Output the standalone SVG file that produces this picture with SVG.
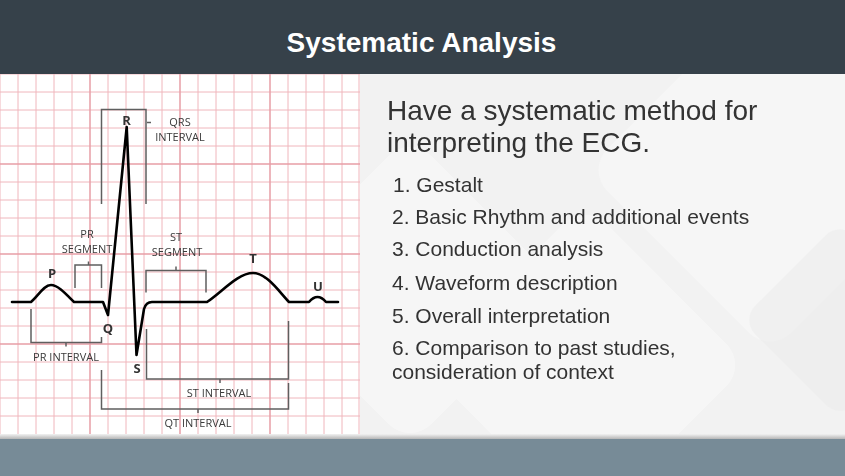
<svg xmlns="http://www.w3.org/2000/svg" width="845" height="476" viewBox="0 0 845 476">
<defs>
<linearGradient id="shadow" x1="0" y1="0" x2="0" y2="1">
<stop offset="0" stop-color="#f2f2f2"/>
<stop offset="1" stop-color="#a9a9a9"/>
</linearGradient>
<clipPath id="ecgclip"><rect x="0" y="74" width="360" height="360"/></clipPath>
</defs>
<style>
.minor{stroke:#f0b6bc;stroke-width:1;fill:none}
.major{stroke:#e79ea7;stroke-width:1.5;fill:none}
.br{stroke:#5f5f5f;stroke-width:1.5;fill:none}
.wave{stroke:#000;stroke-width:2.6;fill:none;stroke-linejoin:round;stroke-linecap:round}
.lab{font-family:"Open Sans","Noto Sans",sans-serif;font-size:11px;fill:#3a3a3a;text-anchor:middle}
.pk{font-family:"Open Sans","Noto Sans",sans-serif;font-size:13px;font-weight:bold;fill:#333;text-anchor:middle}
.head{font-family:"Liberation Sans",Arial,sans-serif;font-size:28px;fill:#333}
.item{font-family:"Liberation Sans",Arial,sans-serif;font-size:21px;fill:#333}
</style>
<!-- background -->
<rect x="0" y="0" width="845" height="476" fill="#f2f2f2"/>
<g fill="#ffffff" opacity="0.35">
<rect x="640" y="40" width="260" height="260" rx="30" transform="rotate(45 770 170)"/>
<rect x="470" y="250" width="230" height="230" rx="30" transform="rotate(45 585 365)"/>
<rect x="300" y="180" width="220" height="220" rx="30" transform="rotate(45 410 290)"/>
</g>
<g fill="#e9e9e9" opacity="0.4">
<rect x="770" y="250" width="140" height="140" rx="20" transform="rotate(45 840 320)"/>
</g>
<!-- header -->
<rect x="0" y="0" width="845" height="74" fill="#36414a"/>
<text x="421.5" y="52" text-anchor="middle" font-family="'Liberation Sans',Arial,sans-serif" font-size="28" font-weight="bold" fill="#ffffff">Systematic Analysis</text>
<!-- bottom bar -->
<rect x="0" y="434" width="845" height="6" fill="url(#shadow)"/>
<rect x="0" y="439" width="845" height="37" fill="#778b97"/>
<!-- ECG grid -->
<g id="ecg-grid" clip-path="url(#ecgclip)">
<rect x="0" y="74" width="360" height="360" fill="#ffffff"/>
<path class="minor" d="M0,74V434M18,74V434M36,74V434M54,74V434M72,74V434M108,74V434M126,74V434M144,74V434M162,74V434M198,74V434M216,74V434M234,74V434M252,74V434M288,74V434M306,74V434M324,74V434M342,74V434M359,74V434"/>
<path class="minor" d="M0,74H360M0,92H360M0,110H360M0,128H360M0,146H360M0,182H360M0,200H360M0,218H360M0,236H360M0,272H360M0,290H360M0,308H360M0,326H360M0,362H360M0,380H360M0,398H360M0,416H360"/>
<path class="major" d="M90,74V434M180,74V434M270,74V434M0,164H360M0,254H360M0,344H360"/>
</g>
<!-- ECG waveform -->
<g id="waveform">
<path class="wave" d="M12,302 L31,302 C38,296 44,285 51,285 C58,285 66,294 74,302 L103,302 L108,315 L126.7,127 L136.5,355 L144,309 Q146,302 152,302 L207,302 C222,292 238,273 253,273 C267,273 280,293 289,302 L309,302 Q317.5,292 326,302 L338,302"/>
</g>
<!-- brackets -->
<g id="connectors">
<path class="br" d="M101.5,204 V109.5 H146 V204"/>
<path class="br" d="M147,122.5 H151"/>
<path class="br" d="M75,288 V265 H101.5 V288 M88.5,265 V261.5"/>
<path class="br" d="M31,309 V342.5 H101.5 V337 M66,342.5 V346.5"/>
<path class="br" d="M146,292.5 V270.5 H206 V292.5 M176,270.5 V266.5"/>
<path class="br" d="M146.5,329 V379 H288.5 V321 M220,379 V383"/>
<path class="br" d="M101.5,370 V409 H288.5 V383 M198,409 V413"/>
</g>
<!-- ECG labels -->
<g id="ecg-labels">
<text class="pk" x="126.5" y="125">R</text>
<text class="pk" x="52" y="278">P</text>
<text class="pk" x="108" y="333">Q</text>
<text class="pk" x="137" y="373">S</text>
<text class="pk" x="253" y="263">T</text>
<text class="pk" x="318" y="291">U</text>
<text class="lab" x="180" y="126">QRS</text>
<text class="lab" x="180" y="141">INTERVAL</text>
<text class="lab" x="87" y="238">PR</text>
<text class="lab" x="87" y="253">SEGMENT</text>
<text class="lab" x="176" y="241">ST</text>
<text class="lab" x="177" y="256">SEGMENT</text>
<text class="lab" x="66" y="361">PR INTERVAL</text>
<text class="lab" x="219" y="397">ST INTERVAL</text>
<text class="lab" x="198" y="427">QT INTERVAL</text>
</g>
<!-- right text -->
<g id="text-panel">
<text class="head" x="387" y="120">Have a systematic method for</text>
<text class="head" x="387" y="152">interpreting the ECG.</text>
<text class="item" x="393" y="192">1. Gestalt</text>
<text class="item" x="392" y="224">2. Basic Rhythm and additional events</text>
<text class="item" x="392" y="256">3. Conduction analysis</text>
<text class="item" x="392" y="290">4. Waveform description</text>
<text class="item" x="392" y="323">5. Overall interpretation</text>
<text class="item" x="392" y="355">6. Comparison to past studies,</text>
<text class="item" x="392" y="379">consideration of context</text>
</g>
</svg>
